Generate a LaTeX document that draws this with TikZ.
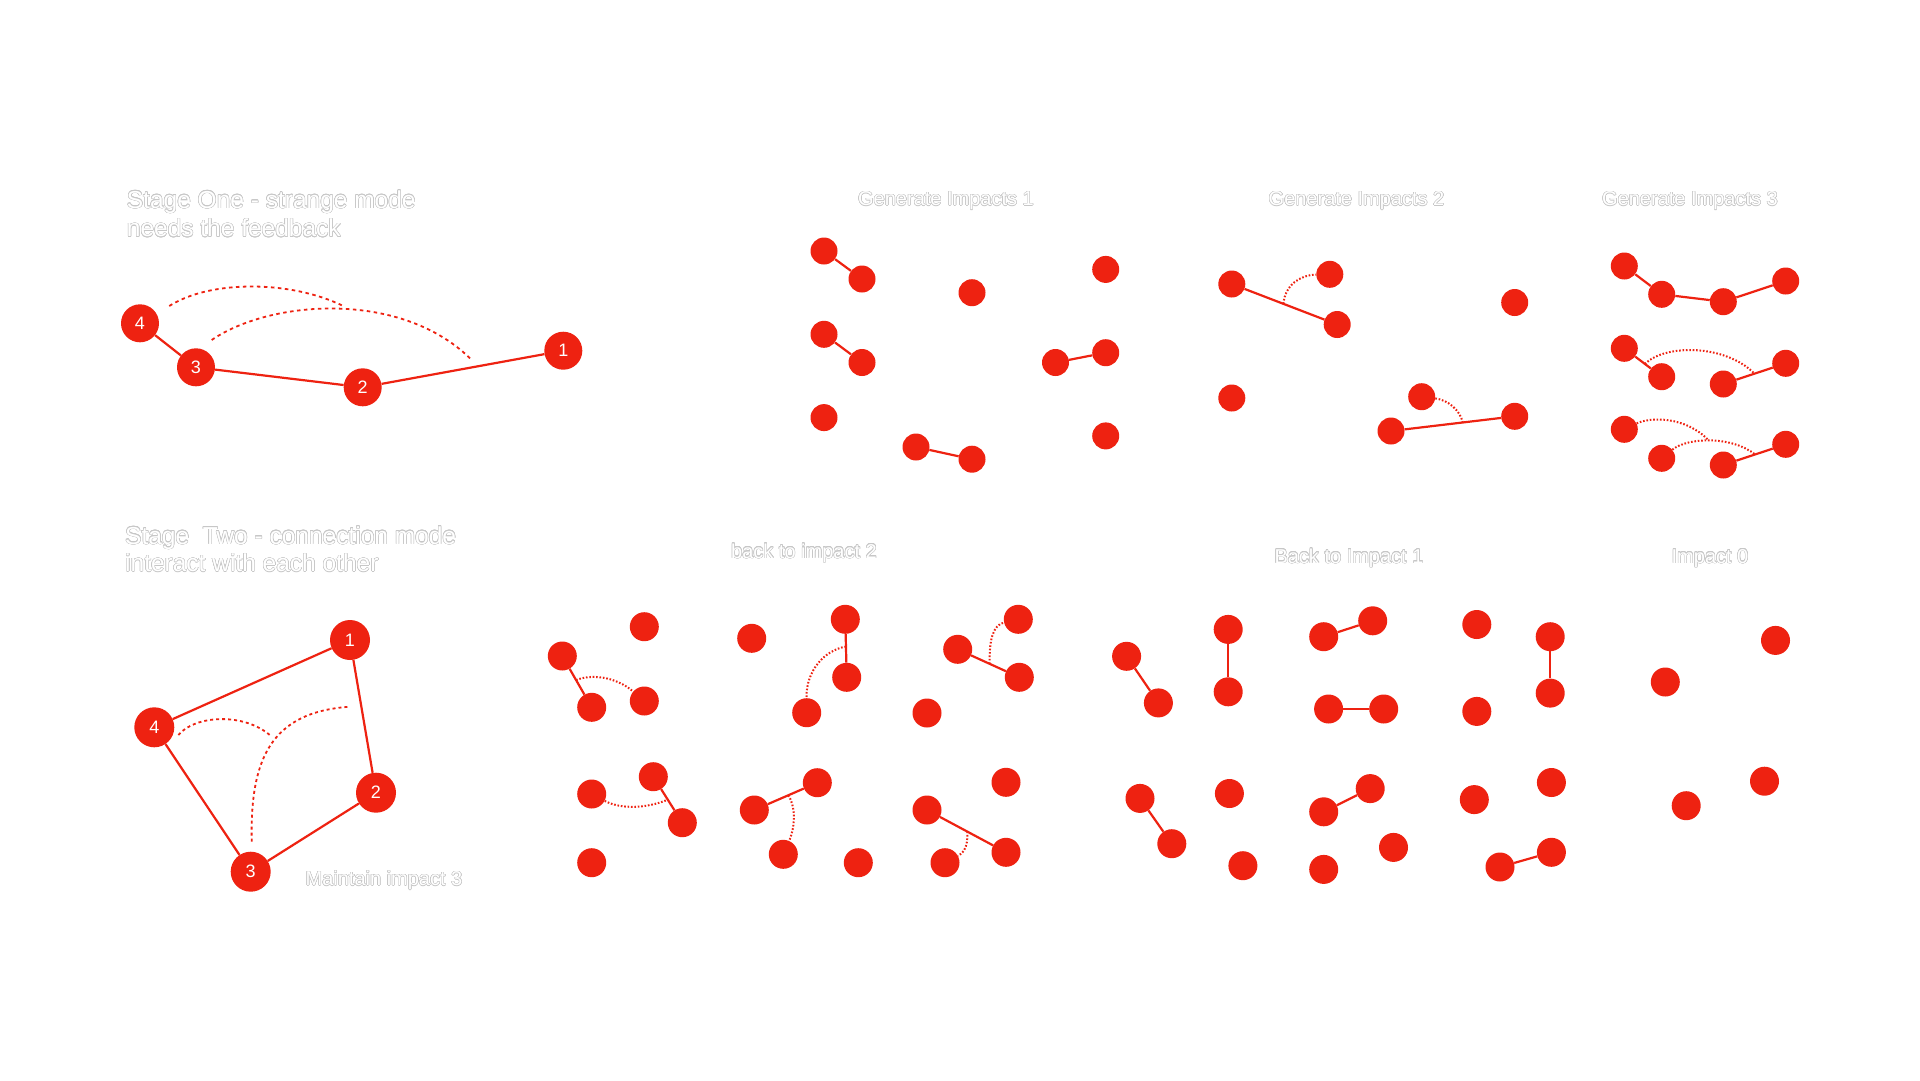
\documentclass[tikz,border=0pt]{standalone}
\usepackage{fontspec}
\setmainfont{Liberation Sans}
\usepackage{contour}
\contourlength{0.5pt}
\contournumber{16}
\usetikzlibrary{calc}
\definecolor{rd}{RGB}{238,34,17}
\newcommand\olt[1]{\contour{black!22}{#1}}
\tikzset{
  dot/.style={circle, fill=rd, inner sep=0pt, minimum size=27pt},
  bdot/.style={circle, fill=rd, inner sep=0pt, minimum size=29pt},
  num/.style={circle, fill=rd, inner sep=0pt, minimum size=38pt, text=white, font=\fontsize{18}{18}\selectfont},
  link/.style={draw=rd, line width=2.2pt},
  dashline/.style={draw=rd, line width=1.8pt, dash pattern=on 3.5pt off 3.5pt},
  dotline/.style={draw=rd, line width=2pt, dash pattern=on 1.6pt off 1.8pt},
  title/.style={text=white, inner sep=0pt, anchor=base west, font=\fontsize{24.5}{24.5}\selectfont},
  lbl/.style={text=white, inner sep=0pt, anchor=base, font=\fontsize{20}{20}\selectfont}
}
\begin{document}
\begin{tikzpicture}[x=1pt,y=-1pt]
\fill[white] (0,0) rectangle (1920,1080);
\useasboundingbox (0,0) rectangle (1920,1080);

% ---------- titles ----------
\node[title] (t1a) at (126.7,208.3) {\olt{Stage One - strange mode}};
\node[title] (t1b) at (126.7,236.7) {\olt{needs the feedback}};
\node[title] (t2a) at (125,544) {\olt{Stage\ \ Two - connection mode}};
\node[title] (t2b) at (125,571.5) {\olt{interact with each other}};
\node[lbl] (g1) at (946,205.5) {\olt{Generate Impacts 1}};
\node[lbl] (g2) at (1356.5,205.5) {\olt{Generate Impacts 2}};
\node[lbl] (g3) at (1690,205.5) {\olt{Generate Impacts 3}};
\node[lbl] (b2) at (804,558) {\olt{back to impact 2}};
\node[lbl] (b1) at (1349,563) {\olt{Back to Impact 1}};
\node[lbl] (i0) at (1710,563) {\olt{Impact 0}};
\node[lbl] (m3) at (384,885.5) {\olt{Maintain impact 3}};

% ---------- Stage One ----------
\node[num] (s4) at (140,323.3) {4};
\node[num] (s3) at (196,367.3) {3};
\node[num] (s2) at (362.7,387.3) {2};
\node[num] (s1) at (563.3,350.7) {1};
\draw[link] (s4) -- (s3);
\draw[link] (s3) -- (s2);
\draw[link] (s2) -- (s1);
\coordinate (sa0) at (169.3,306);
\coordinate (sa1) at (343.3,306);
\coordinate (sb0) at (211.7,340);
\coordinate (sb1) at (470,358.3);
\draw[dashline] (sa0) .. controls (210,280) and (290,280) .. (sa1);
\draw[dashline] (sb0) .. controls (270,300) and (400,290) .. (sb1);

% ---------- Stage Two ----------
\node[num, minimum size=40pt] (q1) at (350,640) {1};
\node[num, minimum size=40pt] (q4) at (154.3,727.3) {4};
\node[num, minimum size=40pt] (q2) at (376,792.7) {2};
\node[num, minimum size=40pt] (q3) at (250.7,871.7) {3};
\draw[link] (q4) -- (q1);
\draw[link] (q1) -- (q2);
\draw[link] (q2) -- (q3);
\draw[link] (q3) -- (q4);
\coordinate (qa0) at (178.3,735);
\coordinate (qa1) at (271.7,736.7);
\coordinate (qb0) at (251.7,841.7);
\coordinate (qb1) at (350,706.7);
\draw[dashline, dash pattern=on 3pt off 3pt] (qa0) .. controls (195,715) and (245,712) .. (qa1);
\draw[dashline, dash pattern=on 3pt off 3pt] (qb0) .. controls (250,760) and (270,712) .. (qb1);

% ---------- Generate Impacts 1 ----------
\node[dot] (a1) at (824,251) {};
\node[dot] (a2) at (862,279) {};
\node[dot] (a3) at (972,292.7) {};
\node[dot] (a4) at (1105.7,269.4) {};
\node[dot] (a5) at (824,334.3) {};
\node[dot] (a6) at (862,362.5) {};
\node[dot] (a7) at (1055.5,362.5) {};
\node[dot] (a8) at (1105.7,352.7) {};
\node[dot] (a9) at (824,417.6) {};
\node[dot] (a10) at (1105.7,435.9) {};
\node[dot] (a11) at (916,447) {};
\node[dot] (a12) at (972,459.2) {};
\draw[link] (a1) -- (a2);
\draw[link] (a5) -- (a6);
\draw[link] (a7) -- (a8);
\draw[link] (a11) -- (a12);

% ---------- Generate Impacts 2 ----------
\node[dot] (c1) at (1231.8,284) {};
\node[dot] (c2) at (1329.8,274.3) {};
\node[dot] (c3) at (1337.2,324.5) {};
\node[dot] (c4) at (1514.7,302.5) {};
\node[dot] (c5) at (1231.8,398) {};
\node[dot] (c6) at (1421.7,396.7) {};
\node[dot] (c7) at (1391,431) {};
\node[dot] (c8) at (1514.7,416.3) {};
\draw[link] (c1) -- (c3);
\draw[link] (c7) -- (c8);
\coordinate (cp1) at ($(c1)!0.49!(c3)$);
\coordinate (cp2) at ($(c7)!0.58!(c8)$);
\draw[dotline] (cp1) .. controls (1285,285) and (1300,275) .. (c2);
\draw[dotline] (c6) .. controls (1448,400) and (1460,410) .. (cp2);

% ---------- Generate Impacts 3 ----------
\node[dot] (d1) at (1624.3,266) {};
\node[dot] (d2) at (1661.7,294.3) {};
\node[dot] (d3) at (1723.3,301.7) {};
\node[dot] (d4) at (1785.7,281) {};
\draw[link] (d1) -- (d2);
\draw[link] (d2) -- (d3);
\draw[link] (d3) -- (d4);
\node[dot] (e1) at (1624.3,348.3) {};
\node[dot] (e2) at (1661.7,376.7) {};
\node[dot] (e3) at (1723.3,384) {};
\node[dot] (e4) at (1785.7,363.3) {};
\draw[link] (e1) -- (e2);
\draw[link] (e3) -- (e4);
\coordinate (ep1) at ($(e1)!0.55!(e2)$);
\coordinate (ep2) at ($(e3)!0.5!(e4)$);
\draw[dotline] (ep1) .. controls (1665,344) and (1725,344) .. (ep2);
\node[dot] (f1) at (1624.3,429.3) {};
\node[dot] (f2) at (1661.7,458.3) {};
\node[dot] (f3) at (1723.3,465) {};
\node[dot] (f4) at (1785.7,444.3) {};
\draw[link] (f3) -- (f4);
\coordinate (fp2) at ($(f3)!0.51!(f4)$);
\coordinate (fm) at (1708.3,440);
\draw[dotline] (f1) .. controls (1650,417) and (1685,416) .. (fm);
\draw[dotline] (f2) .. controls (1688,437) and (1732,436) .. (fp2);

% ---------- back to impact 2 ----------
\node[bdot] (ha) at (562.3,656) {};
\node[bdot] (hb) at (644.3,626.7) {};
\node[bdot] (hc) at (591.7,707.3) {};
\node[bdot] (hd) at (644.3,701) {};
\draw[link] (ha) -- (hc);
\coordinate (hp1) at ($(ha)!0.47!(hc)$);
\draw[dotline] (hp1) .. controls (590,674) and (615,676) .. (hd);

\node[bdot] (he) at (751.7,638.3) {};
\node[bdot] (hf) at (845.3,619.3) {};
\node[bdot] (hg) at (846.7,677.3) {};
\node[bdot] (hh) at (806.7,712.7) {};
\draw[link] (hf) -- (hg);
\coordinate (hp2) at ($(hf)!0.47!(hg)$);
\draw[dotline] (hp2) .. controls (825,650) and (806,670) .. (hh);

\node[bdot] (hi) at (957.7,649.3) {};
\node[bdot] (hj) at (1018.3,619.3) {};
\node[bdot] (hk) at (1019.3,677.3) {};
\node[bdot] (hl) at (927,713) {};
\draw[link] (hi) -- (hk);
\coordinate (hp3) at ($(hi)!0.52!(hk)$);
\draw[dotline] (hp3) .. controls (989,640) and (993,625) .. (hj);

\node[bdot] (hm) at (591.7,794) {};
\node[bdot] (hn) at (653.3,776.7) {};
\node[bdot] (ho) at (682.3,822.7) {};
\node[bdot] (hq) at (591.7,862.7) {};
\draw[link] (hn) -- (ho);
\coordinate (hp4) at ($(hn)!0.5!(ho)$);
\draw[dotline] (hm) .. controls (620,809) and (645,809) .. (hp4);

\node[bdot] (hr) at (754.3,810) {};
\node[bdot] (hs) at (817.3,782.7) {};
\node[bdot] (ht) at (783.3,854.3) {};
\node[bdot] (hu) at (858.3,862.7) {};
\draw[link] (hr) -- (hs);
\coordinate (hp5) at ($(hr)!0.54!(hs)$);
\draw[dotline] (hp5) .. controls (795,805) and (796,825) .. (ht);

\node[bdot] (hv) at (927,810) {};
\node[bdot] (hw) at (1006,782.3) {};
\node[bdot] (hx) at (1006,852.3) {};
\node[bdot] (hy) at (945,862.7) {};
\draw[link] (hv) -- (hx);
\coordinate (hp6) at ($(hv)!0.51!(hx)$);
\draw[dotline] (hp6) .. controls (968,845) and (965,852) .. (hy);

% ---------- Back to Impact 1 ----------
\node[bdot] (k1) at (1126.6,656.3) {};
\node[bdot] (k2) at (1158.4,702.9) {};
\node[bdot] (k3) at (1228.2,629.4) {};
\node[bdot] (k4) at (1228.2,691.8) {};
\node[bdot] (k5) at (1323.7,636.7) {};
\node[bdot] (k6) at (1372.7,620.8) {};
\node[bdot] (k7) at (1328.6,709) {};
\node[bdot] (k8) at (1383.7,709) {};
\node[bdot] (k9) at (1476.8,624.5) {};
\node[bdot] (k10) at (1476.8,711.4) {};
\node[bdot] (k11) at (1550.2,636.7) {};
\node[bdot] (k12) at (1550.2,693.1) {};
\draw[link] (k1) -- (k2);
\draw[link] (k3) -- (k4);
\draw[link] (k5) -- (k6);
\draw[link] (k7) -- (k8);
\draw[link] (k11) -- (k12);
\node[bdot] (l1) at (1140,798.4) {};
\node[bdot] (l2) at (1171.8,843.7) {};
\node[bdot] (l3) at (1229.4,793.5) {};
\node[bdot] (l4) at (1242.9,865.7) {};
\node[bdot] (l5) at (1323.7,811.8) {};
\node[bdot] (l6) at (1370.2,788.6) {};
\node[bdot] (l7) at (1323.7,869.4) {};
\node[bdot] (l8) at (1393.5,847.4) {};
\node[bdot] (l9) at (1474.3,799.6) {};
\node[bdot] (l10) at (1551.4,782.5) {};
\node[bdot] (l11) at (1500,867) {};
\node[bdot] (l12) at (1551.4,852.3) {};
\draw[link] (l1) -- (l2);
\draw[link] (l5) -- (l6);
\draw[link] (l11) -- (l12);

% ---------- Impact 0 ----------
\node[bdot] (z1) at (1775.5,640.4) {};
\node[bdot] (z2) at (1665.3,682) {};
\node[bdot] (z3) at (1764.5,781.2) {};
\node[bdot] (z4) at (1686.2,805.7) {};
\end{tikzpicture}
\end{document}
